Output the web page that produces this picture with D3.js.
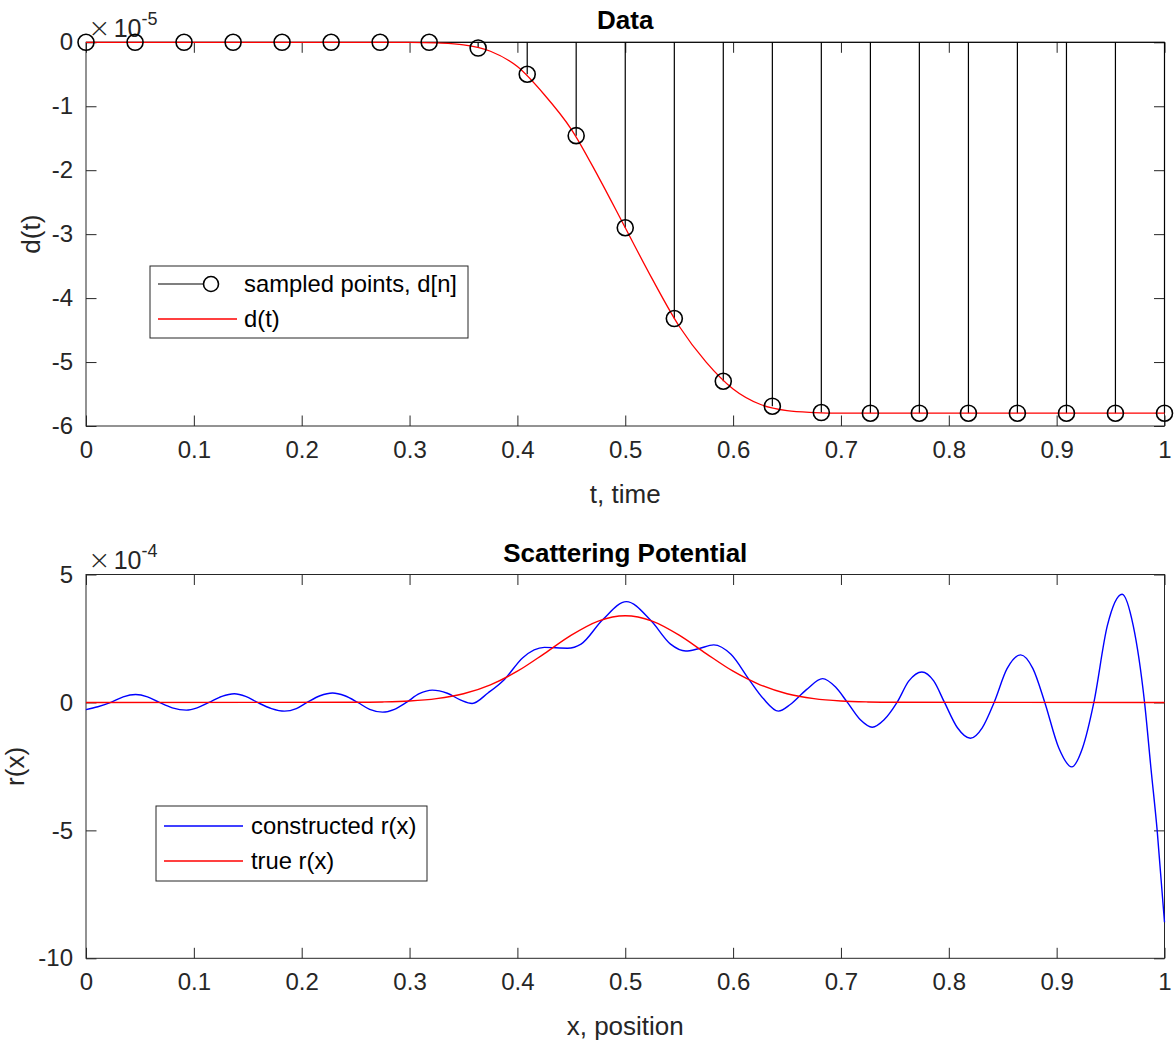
<!DOCTYPE html>
<html><head><meta charset="utf-8">
<script src="https://cdn.jsdelivr.net/npm/d3@7"></script>
<style>
html,body{margin:0;padding:0;background:#fff;}
svg{display:block;font-family:"Liberation Sans",Arial,Helvetica,sans-serif;}
</style></head>
<body>
<svg id="chart" width="1174" height="1048"></svg>
<script>
// ---------- data (top panel, values in units of 1e-5) ----------
const tSamples = [0, 0.0455, 0.0909, 0.1364, 0.1818, 0.2273, 0.2727, 0.3182, 0.3636, 0.4091, 0.4545, 0.5,
  0.5455, 0.5909, 0.6364, 0.6818, 0.7273, 0.7727, 0.8182, 0.8636, 0.9091, 0.9545, 1.0];
const dSamples = [0, 0, 0, 0, 0, 0, 0, 0, -0.09, -0.50, -1.46, -2.90,
  -4.32, -5.30, -5.69, -5.79, -5.80, -5.80, -5.80, -5.80, -5.80, -5.80, -5.80];
const dCurveT = [0, 0.3, 0.325, 0.35, 0.375, 0.4, 0.425, 0.45, 0.475, 0.5, 0.525, 0.55, 0.575, 0.6, 0.625, 0.65, 0.675, 0.7, 1.0];
const dCurveV = [0, 0, -0.01, -0.04, -0.14, -0.38, -0.82, -1.36, -2.10, -2.90, -3.70, -4.44, -5.00, -5.42, -5.66, -5.76, -5.79, -5.80, -5.80];

// ---------- data (bottom panel, values in units of 1e-4) ----------
const rTrueX = [0, 0.25, 0.275, 0.3, 0.325, 0.35, 0.375, 0.4, 0.425, 0.45, 0.475, 0.5,
  0.525, 0.55, 0.575, 0.6, 0.625, 0.65, 0.675, 0.7, 0.725, 0.75, 1.0];
const rTrueV = [0, 0.006, 0.019, 0.057, 0.15, 0.34, 0.69, 1.22, 1.91, 2.63, 3.18, 3.39,
  3.18, 2.63, 1.91, 1.22, 0.69, 0.34, 0.15, 0.057, 0.019, 0.006, 0];
const rConX = [0, 0.011, 0.023, 0.0345, 0.046, 0.057, 0.068, 0.080, 0.093, 0.103, 0.114, 0.126, 0.1375, 0.148,
  0.159, 0.172, 0.184, 0.195, 0.205, 0.217, 0.2286, 0.240, 0.252, 0.263, 0.275, 0.286, 0.297, 0.309, 0.321,
  0.335, 0.3475, 0.358, 0.373, 0.388, 0.405, 0.425, 0.4465, 0.459, 0.479, 0.501, 0.524, 0.542, 0.556, 0.568,
  0.582, 0.598, 0.615, 0.628, 0.642, 0.653, 0.668, 0.683, 0.695, 0.706, 0.718, 0.729, 0.740, 0.752, 0.763,
  0.775, 0.786, 0.796, 0.808, 0.820, 0.831, 0.842, 0.854, 0.8666, 0.878, 0.889, 0.902, 0.914, 0.924, 0.9345,
  0.947, 0.9607, 0.971, 0.9815, 0.9875, 0.9932, 1.0];
const rConV = [-0.28, -0.17, 0, 0.22, 0.31, 0.22, 0, -0.21, -0.30, -0.21, 0, 0.24, 0.34, 0.24,
  0, -0.24, -0.34, -0.24, 0, 0.26, 0.37, 0.26, 0, -0.27, -0.38, -0.27, 0, 0.34, 0.48,
  0.36, 0.09, -0.04, 0.38, 0.90, 1.75, 2.15, 2.12, 2.28, 3.23, 3.94, 3.19, 2.28, 2.01, 2.10,
  2.25, 1.88, 0.88, 0.15, -0.34, -0.08, 0.50, 0.93, 0.60, 0, -0.68, -0.97, -0.68, 0, 0.84,
  1.19, 0.84, 0, -0.99, -1.40, -0.99, 0, 1.32, 1.86, 1.32, 0, -1.78, -2.52, -1.78, 0,
  3.0, 4.23, 3.0, 0, -2.6, -5.0, -8.59];

// ---------- ticks & labels ----------
const xTicks = [0, 0.1, 0.2, 0.3, 0.4, 0.5, 0.6, 0.7, 0.8, 0.9, 1];
const yTicksTop = [0, -1, -2, -3, -4, -5, -6];
const yTicksBottom = [5, 0, -5, -10];
const topTitle = "Data", topXLabel = "t, time", topYLabel = "d(t)";
const botTitle = "Scattering Potential", botXLabel = "x, position", botYLabel = "r(x)";
const topLegend = ["sampled points, d[n]", "d(t)"];
const botLegend = ["constructed r(x)", "true r(x)"];

// ---------- drawing ----------
const svg = d3.select("#chart");
const AX = "#262626";
const L = 86, R = 1164.5;
const TICK = 24, LAB = 26, TIT = 26, LEG = 23.8;

function panel(top, bottom, yDomain, yTicks, expTxt, title, xlab, ylab, ylabX) {
  const x = d3.scaleLinear().domain([0, 1]).range([L, R]);
  const y = d3.scaleLinear().domain(yDomain).range([bottom, top]);
  const g = svg.append("g");
  const fmt = d => String(d);
  const ax = (gen, tr, labels) => {
    const a = g.append("g").attr("transform", tr).call(gen);
    a.select(".domain").remove();
    a.selectAll("line").attr("stroke", AX).attr("stroke-width", 1);
    a.selectAll("text").attr("fill", AX).style("font-size", TICK + "px").style("font-family", "Liberation Sans, Arial, sans-serif");
    if (!labels) a.selectAll("text").remove();
    return a;
  };
  ax(d3.axisBottom(x).tickValues(xTicks).tickFormat(fmt).tickSizeInner(-10.5).tickSizeOuter(0).tickPadding(15), `translate(0,${bottom})`, true);
  ax(d3.axisTop(x).tickValues(xTicks).tickSizeInner(-10.5).tickSizeOuter(0), `translate(0,${top})`, false);
  ax(d3.axisLeft(y).tickValues(yTicks).tickFormat(fmt).tickSizeInner(-10.5).tickSizeOuter(0).tickPadding(13), `translate(${L},0)`, true);
  ax(d3.axisRight(y).tickValues(yTicks).tickSizeInner(-10.5).tickSizeOuter(0), `translate(${R},0)`, false);
  g.append("rect").attr("x", L).attr("y", top).attr("width", R - L).attr("height", bottom - top)
    .attr("fill", "none").attr("stroke", AX).attr("stroke-width", 1);
  // exponent
  const e = g.append("text").attr("x", 88).attr("y", top - 5.5).attr("fill", AX).style("font-size", "25px");
  e.append("tspan").text("×").style("font-size", "27px").style("font-family", "DejaVu Sans, sans-serif").style("font-weight", "200");
  e.append("tspan").text("10").attr("dx", 3);
  e.append("tspan").text(expTxt).attr("dy", -12).style("font-size", "18px");
  // title
  g.append("text").attr("x", (L + R) / 2).attr("y", top - 13).attr("text-anchor", "middle")
    .style("font-size", TIT + "px").style("font-weight", "bold").attr("fill", "#000").text(title);
  g.append("text").attr("x", (L + R) / 2).attr("y", bottom + 77).attr("text-anchor", "middle")
    .style("font-size", LAB + "px").attr("fill", AX).text(xlab);
  g.append("text").attr("transform", `translate(${ylabX},${(top + bottom) / 2}) rotate(-90)`).attr("text-anchor", "middle")
    .style("font-size", LAB + "px").attr("fill", AX).text(ylab);
  return { x, y, g };
}

// Top panel
const p1 = panel(42.3, 426, [-6, 0], yTicksTop, "-5", topTitle, topXLabel, topYLabel, 40);
const data1 = tSamples.map((t, i) => ({ t, v: dSamples[i] }));
p1.g.append("g").selectAll("line").data(data1).join("line")
  .attr("x1", d => p1.x(d.t)).attr("x2", d => p1.x(d.t))
  .attr("y1", p1.y(0)).attr("y2", d => p1.y(d.v))
  .attr("stroke", "#000").attr("stroke-width", 1.2);
p1.g.append("line").attr("x1", L).attr("x2", R).attr("y1", p1.y(0)).attr("y2", p1.y(0)).attr("stroke", "#000").attr("stroke-width", 1);
const line1 = d3.line().x(d => p1.x(d[0])).y(d => p1.y(d[1])).curve(d3.curveMonotoneX);
p1.g.append("path").attr("d", line1(dCurveT.map((t, i) => [t, dCurveV[i]])))
  .attr("fill", "none").attr("stroke", "#ff0000").attr("stroke-width", 1.3);
p1.g.append("g").selectAll("circle").data(data1).join("circle")
  .attr("cx", d => p1.x(d.t)).attr("cy", d => p1.y(d.v)).attr("r", 8)
  .attr("fill", "none").attr("stroke", "#000").attr("stroke-width", 1.6);

// top legend
{
  const lg = svg.append("g");
  lg.append("rect").attr("x", 150).attr("y", 266).attr("width", 318).attr("height", 72)
    .attr("fill", "#fff").attr("stroke", AX).attr("stroke-width", 1);
  lg.append("line").attr("x1", 158).attr("x2", 203).attr("y1", 284).attr("y2", 284).attr("stroke", "#000").attr("stroke-width", 1.2);
  lg.append("circle").attr("cx", 211).attr("cy", 284).attr("r", 7.5).attr("fill", "none").attr("stroke", "#000").attr("stroke-width", 1.6);
  lg.append("line").attr("x1", 158).attr("x2", 237).attr("y1", 319).attr("y2", 319).attr("stroke", "#ff0000").attr("stroke-width", 1.3);
  lg.append("text").attr("x", 244).attr("y", 292).style("font-size", LEG + "px").attr("fill", "#000").text(topLegend[0]);
  lg.append("text").attr("x", 244).attr("y", 327).style("font-size", LEG + "px").attr("fill", "#000").text(topLegend[1]);
}

// Bottom panel
const p2 = panel(574.5, 958.3, [-10, 5], yTicksBottom, "-4", botTitle, botXLabel, botYLabel, 23.5);
const line2 = d3.line().x(d => p2.x(d[0])).y(d => p2.y(d[1])).curve(d3.curveMonotoneX);
p2.g.append("path").attr("d", line2(rConX.map((t, i) => [t, rConV[i]])))
  .attr("fill", "none").attr("stroke", "#0000ff").attr("stroke-width", 1.4);
p2.g.append("path").attr("d", line2(rTrueX.map((t, i) => [t, rTrueV[i]])))
  .attr("fill", "none").attr("stroke", "#ff0000").attr("stroke-width", 1.4);

{
  const lg = svg.append("g");
  lg.append("rect").attr("x", 156).attr("y", 806).attr("width", 271).attr("height", 75)
    .attr("fill", "#fff").attr("stroke", AX).attr("stroke-width", 1);
  lg.append("line").attr("x1", 164).attr("x2", 243).attr("y1", 826).attr("y2", 826).attr("stroke", "#0000ff").attr("stroke-width", 1.4);
  lg.append("line").attr("x1", 164).attr("x2", 243).attr("y1", 861).attr("y2", 861).attr("stroke", "#ff0000").attr("stroke-width", 1.4);
  lg.append("text").attr("x", 251).attr("y", 834).style("font-size", LEG + "px").attr("fill", "#000").text(botLegend[0]);
  lg.append("text").attr("x", 251).attr("y", 869).style("font-size", LEG + "px").attr("fill", "#000").text(botLegend[1]);
}
</script>
</body></html>
